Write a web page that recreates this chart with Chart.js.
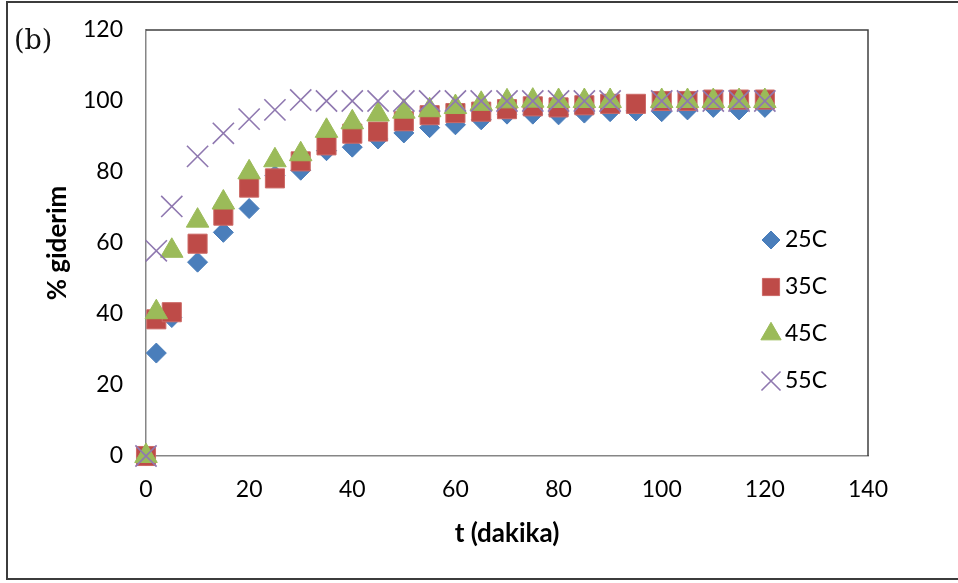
<!DOCTYPE html>
<html>
<head>
<meta charset="utf-8">
<script src="https://cdn.jsdelivr.net/npm/chart.js@4/dist/chart.umd.min.js"></script>
<style>
  html, body { margin: 0; padding: 0; background: #fff; }
  #wrap { width: 958px; height: 583px; }
</style>
</head>
<body>
<div id="wrap"><canvas id="chart" width="958" height="583"></canvas></div>
<script>
// sampling times (dakika)
const times = [0, 2, 5, 10, 15, 20, 25, 30, 35, 40, 45, 50, 55, 60, 65, 70, 75, 80, 85, 90, 95, 100, 105, 110, 115, 120];

// % giderim at each temperature (null = no point at that time)
const removal25 = [0, 29, 39, 54.6, 63, 69.7, 79, 80.5, 86, 87, 89.3, 91, 92.5, 93.3, 94.7, 96.3, 96.3, 96.1, 96.6, 97, 97.2, 97, 97.5, 98.2, 97.5, 98.2];
const removal35 = [0, 38.5, 40.5, 59.8, 67.7, 75.6, 78.2, 83, 87.5, 90.8, 91.4, 94.3, 96, 96.6, 97, 97.7, 98.5, 98.2, 98.8, 99.2, 99.2, 100, 100, 100.4, 100.4, 100.4];
const removal45 = [0, 40.5, 57.8, 66.3, 71.4, 79.9, 83.3, 85, 91.6, 94, 96.2, 97, 97.4, 98.3, 99.2, 99.9, 100.1, 100, 100, 100, null, 100, 100, 100, 100, 100];
const removal55 = [0, 57.8, 70.3, 84.4, 90.9, 94.9, 97.5, 100.3, 100, 100, 100, 100, 100, 100, 100, 100, 100, 100, 100, 100, null, 100, 100, 100, 100, 100];

const seriesLabels = ['25C', '35C', '45C', '55C'];

const xTicks = { min: 0, max: 140, step: 20 };
const yTicks = { min: 0, max: 120, step: 20 };

function toPoints(values) {
    const pts = [];
    values.forEach((v, i) => {
        if (v !== null) pts.push({ x: times[i], y: v });
    });
    return pts;
}

const tickFont = { family: 'Lato', size: 23 };
const titleFont = { family: 'Lato', size: 26, weight: 'bold' };

// frame, plot border, legend and panel label
const decor = {
    id: 'decor',
    beforeDraw(chart) {
        const ctx = chart.ctx;
        ctx.save();
        ctx.fillStyle = '#fff';
        ctx.fillRect(0, 0, chart.width, chart.height);
        ctx.strokeStyle = '#3c3c3c';
        ctx.lineWidth = 2;
        ctx.strokeRect(7, 2, chart.width + 10, 577);
        ctx.restore();
    },
    beforeDatasetsDraw(chart) {
        const { ctx, chartArea: a } = chart;
        ctx.save();
        ctx.strokeStyle = '#404040';
        ctx.lineWidth = 1.5;
        ctx.beginPath();
        ctx.moveTo(a.left, a.top);
        ctx.lineTo(a.right, a.top);
        ctx.lineTo(a.right, a.bottom);
        ctx.stroke();
        ctx.restore();
    },
    afterDraw(chart) {
        const ctx = chart.ctx;
        ctx.save();
        // legend inside the plot
        const rowY = [240, 287, 334, 381];
        chart.data.datasets.forEach((ds, i) => {
            ctx.fillStyle = ds.backgroundColor;
            ctx.strokeStyle = ds.borderColor;
            ctx.lineWidth = ds.borderWidth;
            Chart.helpers.drawPoint(ctx, {
                pointStyle: ds.pointStyle,
                radius: ds.pointRadius * 0.9,
                borderWidth: ds.borderWidth,
                rotation: 0
            }, 771, rowY[i]);
            ctx.fillStyle = '#000';
            ctx.font = '23px Lato';
            ctx.textBaseline = 'middle';
            ctx.textAlign = 'left';
            ctx.fillText(ds.label, 785, rowY[i]);
        });
        // panel label
        ctx.fillStyle = '#111';
        ctx.font = '27px "DejaVu Serif"';
        ctx.textBaseline = 'middle';
        ctx.fillText('(b)', 14, 42);
        ctx.restore();
    }
};

new Chart(document.getElementById('chart'), {
    type: 'scatter',
    data: {
        datasets: [
            {
                label: seriesLabels[0],
                data: toPoints(removal25),
                pointStyle: 'rectRot',
                pointRadius: 10,
                backgroundColor: '#4A7EBB',
                borderColor: '#4A7EBB',
                borderWidth: 1,
                order: 4
            },
            {
                label: seriesLabels[1],
                data: toPoints(removal35),
                pointStyle: 'rect',
                pointRadius: 13.5,
                backgroundColor: '#BE4B48',
                borderColor: '#CC6966',
                borderWidth: 1,
                order: 3
            },
            {
                label: seriesLabels[2],
                data: toPoints(removal45),
                pointStyle: 'triangle',
                pointRadius: 13,
                backgroundColor: '#9BBB59',
                borderColor: '#9BBB59',
                borderWidth: 1,
                order: 2
            },
            {
                label: seriesLabels[3],
                data: toPoints(removal55),
                pointStyle: 'crossRot',
                pointRadius: 15,
                backgroundColor: '#8F78B0',
                borderColor: '#8F78B0',
                borderWidth: 1.6,
                order: 1
            }
        ]
    },
    options: {
        responsive: false,
        animation: false,
        clip: false,
        layout: {
            padding: { left: 0, top: 30, right: 90, bottom: 0 }
        },
        plugins: {
            legend: { display: false },
            tooltip: { enabled: false }
        },
        scales: {
            x: {
                type: 'linear',
                min: xTicks.min,
                max: xTicks.max,
                afterFit: (s) => { s.height = 127; },
                grid: { display: false, drawTicks: false },
                border: { display: true, color: '#868686', width: 1.5 },
                ticks: { stepSize: xTicks.step, color: '#000', font: tickFont, padding: 20, maxRotation: 0 },
                title: {
                    display: true,
                    text: 't (dakika)',
                    color: '#000',
                    font: titleFont,
                    padding: { top: 0, bottom: 34 }
                }
            },
            y: {
                type: 'linear',
                min: yTicks.min,
                max: yTicks.max,
                afterFit: (s) => {
                    s.width = 146;
                    // tick padding is horizontal here, don't let it push the plot top down
                    s.paddingTop = 14;
                    s.paddingBottom = 14;
                },
                grid: { display: false, drawTicks: false },
                border: { display: true, color: '#868686', width: 1.5 },
                ticks: { stepSize: yTicks.step, color: '#000', font: tickFont, padding: 23 },
                title: {
                    display: true,
                    text: '% giderim',
                    color: '#000',
                    font: titleFont,
                    padding: { top: 42, bottom: 0 }
                }
            }
        }
    },
    plugins: [decor]
});
</script>
</body>
</html>
